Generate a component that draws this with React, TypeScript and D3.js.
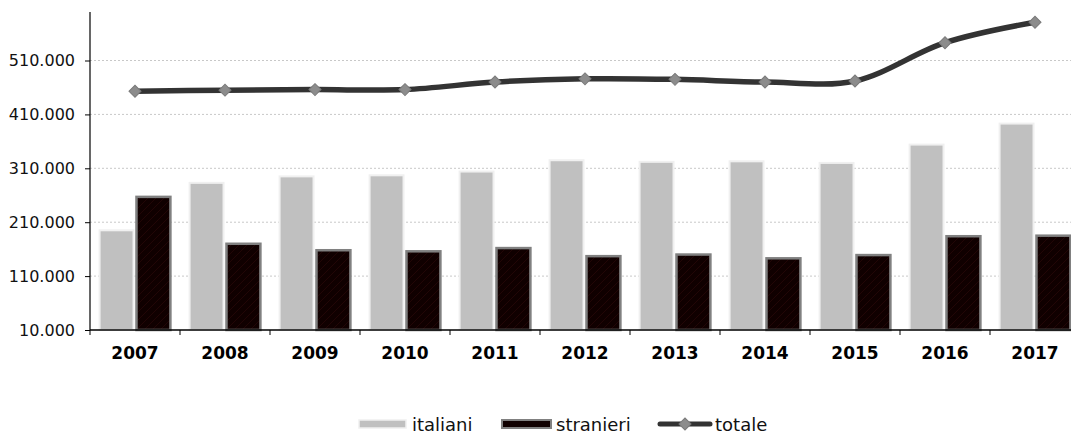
import * as d3 from 'd3';
import React, { useEffect, useRef } from 'react';

const years = ['2007', '2008', '2009', '2010', '2011', '2012', '2013', '2014', '2015', '2016', '2017'];
const italiani = [195000, 283000, 295000, 297000, 304000, 325000, 322000, 323000, 320000, 354000, 393000];
const stranieri = [257000, 170000, 158000, 156000, 162000, 147000, 150000, 143000, 149000, 184000, 185000];
const totale = [453000, 455000, 456000, 456000, 470000, 476000, 475000, 470000, 472000, 543000, 581000];
const yTicks = [10000, 110000, 210000, 310000, 410000, 510000];
const seriesNames = ['italiani', 'stranieri'];

const W = 1071;
const H = 434;

export default function App() {
  const svgRef = useRef(null);

  useEffect(() => {
    const svg = d3.select(svgRef.current);
    svg.selectAll('*').remove();

    const margin = { top: 12, left: 90, bottom: 330 };
    const font = '"DejaVu Sans", Verdana, sans-serif';
    const itFmt = d3.formatLocale({ decimal: ',', thousands: '.', grouping: [3], currency: ['', ''] }).format(',d');

    // faint hatch for stranieri
    const defs = svg.append('defs');
    const pat = defs.append('pattern')
      .attr('id', 'hatch')
      .attr('patternUnits', 'userSpaceOnUse')
      .attr('width', 8)
      .attr('height', 8);
    pat.append('rect').attr('width', 8).attr('height', 8).attr('fill', '#100000');
    pat.append('path')
      .attr('d', 'M0,8 L8,0 M-2,2 L2,-2 M6,10 L10,6')
      .attr('stroke', '#220606')
      .attr('stroke-width', 1);

    const x = d3.scaleBand().domain(years).range([margin.left, margin.left + 90 * years.length]);
    const xIn = d3.scaleBand().domain(seriesNames).range([0, x.bandwidth()]).paddingInner(0.08).paddingOuter(0.26);
    const y = d3.scaleLinear().domain([10000, 600000]).range([margin.bottom, margin.top]);

    // gridlines
    svg.append('g')
      .selectAll('line')
      .data(yTicks.slice(1))
      .join('line')
      .attr('x1', margin.left)
      .attr('x2', W)
      .attr('y1', d => y(d))
      .attr('y2', d => y(d))
      .attr('stroke', '#c8c8c8')
      .attr('stroke-width', 1)
      .attr('stroke-dasharray', '2,2');

    // bars
    const groups = svg.append('g')
      .selectAll('g')
      .data(years)
      .join('g')
      .attr('transform', d => `translate(${x(d)},0)`);

    groups.append('rect')
      .attr('x', xIn('italiani')!)
      .attr('y', (d, i) => y(italiani[i]))
      .attr('width', xIn.bandwidth())
      .attr('height', (d, i) => y(10000) - y(italiani[i]))
      .attr('fill', '#c0c0c0')
      .attr('stroke', '#f0f0f0')
      .attr('stroke-width', 2);

    groups.append('rect')
      .attr('x', xIn('stranieri')!)
      .attr('y', (d, i) => y(stranieri[i]))
      .attr('width', xIn.bandwidth())
      .attr('height', (d, i) => y(10000) - y(stranieri[i]))
      .attr('fill', 'url(#hatch)')
      .attr('stroke', '#808080')
      .attr('stroke-width', 2.5);

    // y axis
    const yAxis = d3.axisLeft(y)
      .tickValues(yTicks)
      .tickSize(5)
      .tickPadding(10)
      .tickFormat(d => itFmt(d as number));
    const yg = svg.append('g')
      .attr('transform', `translate(${margin.left},0)`)
      .call(yAxis);
    yg.select('.domain').remove();
    yg.selectAll('line').attr('stroke', '#000');
    yg.selectAll('text')
      .attr('font-family', font)
      .attr('font-size', 16)
      .attr('fill', '#111');
    svg.append('line')
      .attr('x1', margin.left).attr('x2', margin.left)
      .attr('y1', margin.top).attr('y2', margin.bottom)
      .attr('stroke', '#000').attr('stroke-width', 1.2);

    // x axis
    const xAxis = d3.axisBottom(x).tickSize(0).tickPadding(17);
    const xg = svg.append('g')
      .attr('transform', `translate(0,${margin.bottom})`)
      .call(xAxis);
    xg.select('.domain').remove();
    xg.selectAll('text')
      .attr('font-family', font)
      .attr('font-size', 17)
      .attr('font-weight', 'bold')
      .attr('fill', '#000');
    svg.append('g')
      .selectAll('line')
      .data(years)
      .join('line')
      .attr('x1', d => x(d)!)
      .attr('x2', d => x(d)!)
      .attr('y1', margin.bottom)
      .attr('y2', margin.bottom + 5)
      .attr('stroke', '#000');
    svg.append('line')
      .attr('x1', margin.left).attr('x2', W)
      .attr('y1', margin.bottom).attr('y2', margin.bottom)
      .attr('stroke', '#000').attr('stroke-width', 1.5);

    // totale line
    const cx = (i: number) => x(years[i])! + x.bandwidth() / 2;
    const line = d3.line<number>()
      .x((d, i) => cx(i))
      .y(d => y(d))
      .curve(d3.curveCatmullRom.alpha(0.5));
    svg.append('path')
      .attr('d', line(totale))
      .attr('fill', 'none')
      .attr('stroke', '#333333')
      .attr('stroke-width', 5.5)
      .attr('stroke-linecap', 'round');

    const diamond = d3.symbol().type(d3.symbolSquare).size(72);
    svg.append('g')
      .selectAll('path')
      .data(totale)
      .join('path')
      .attr('d', diamond)
      .attr('transform', (d, i) => `translate(${cx(i)},${y(d)}) rotate(45)`)
      .attr('fill', '#8c8c8c')
      .attr('stroke', '#7a7a7a')
      .attr('stroke-width', 1);

    // legend
    const lg = svg.append('g').attr('font-family', font).attr('font-size', 18).attr('fill', '#111');
    lg.append('rect').attr('x', 359).attr('y', 420).attr('width', 47).attr('height', 8)
      .attr('fill', '#c0c0c0').attr('stroke', '#f0f0f0').attr('stroke-width', 1.5);
    lg.append('text').attr('x', 412).attr('y', 431).text('italiani');
    lg.append('rect').attr('x', 502).attr('y', 420).attr('width', 49).attr('height', 8)
      .attr('fill', '#100000').attr('stroke', '#808080').attr('stroke-width', 2);
    lg.append('text').attr('x', 556).attr('y', 431).text('stranieri');
    lg.append('line').attr('x1', 660).attr('x2', 710).attr('y1', 424).attr('y2', 424)
      .attr('stroke', '#333333').attr('stroke-width', 5).attr('stroke-linecap', 'round');
    lg.append('path').attr('d', diamond).attr('transform', 'translate(685,424) rotate(45)')
      .attr('fill', '#8c8c8c').attr('stroke', '#7a7a7a');
    lg.append('text').attr('x', 715).attr('y', 431).text('totale');
  }, []);

  return (
    <svg ref={svgRef} width={W} height={H} style={{ position: 'absolute', left: 0, top: 0, background: '#fff' }} />
  );
}
